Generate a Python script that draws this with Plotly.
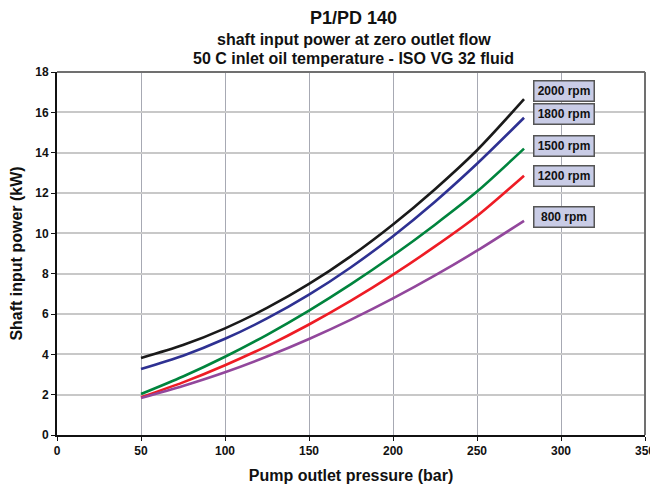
import plotly.graph_objects as go

pressure = [50, 75, 100, 125, 150, 175, 200, 225, 250, 278]
rpm2000 = [3.82, 4.46, 5.29, 6.30, 7.49, 8.87, 10.44, 12.19, 14.12, 16.65]
rpm1800 = [3.27, 3.93, 4.77, 5.78, 6.96, 8.32, 9.86, 11.57, 13.45, 15.73]
rpm1500 = [2.03, 2.90, 3.88, 4.97, 6.17, 7.48, 8.90, 10.43, 12.07, 14.20]
rpm1200 = [1.87, 2.61, 3.46, 4.41, 5.48, 6.66, 7.95, 9.35, 10.86, 12.86]
rpm800 = [1.83, 2.43, 3.11, 3.89, 4.76, 5.72, 6.77, 7.91, 9.14, 10.62]

series = [
    ("2000 rpm", rpm2000, "#1a1a1a", 17.06),
    ("1800 rpm", rpm1800, "#2e3192", 15.93),
    ("1500 rpm", rpm1500, "#00843d", 14.31),
    ("1200 rpm", rpm1200, "#ee1c25", 12.83),
    ("800 rpm", rpm800, "#92479c", 10.83),
]
label_x = 302

x_ticks = [0, 50, 100, 150, 200, 250, 300, 350]
y_ticks = [0, 2, 4, 6, 8, 10, 12, 14, 16, 18]

FONT = "Liberation Sans, Arial, sans-serif"

fig = go.Figure()
for name, vals, color, ly in series:
    fig.add_trace(go.Scatter(
        x=pressure, y=vals, mode="lines", name=name,
        line=dict(color=color, width=2.6, shape="spline", smoothing=0.8),
        showlegend=False, hoverinfo="x+y+name"))
    fig.add_annotation(
        x=label_x, y=ly, xref="x", yref="y", text="<b>%s</b>" % name,
        showarrow=False, font=dict(family=FONT, size=12, color="#111"),
        bgcolor="#c9cce6", bordercolor="#555555", borderwidth=1.5,
        borderpad=2, width=55, height=15)

titles = [("<b>P1/PD 140</b>", 18, 18),
          ("<b>shaft input power at zero outlet flow</b>", 16, 39),
          ("<b>50 C inlet oil temperature - ISO VG 32 fluid</b>", 16, 58)]
plot_top, plot_bottom = 72, 435
for txt, size, ypix in titles:
    yp = (plot_bottom - ypix) / (plot_bottom - plot_top)
    fig.add_annotation(x=0.505, y=yp, xref="paper", yref="paper", text=txt,
                       showarrow=False, yanchor="middle", xanchor="center",
                       font=dict(family=FONT, size=size, color="#111"))

fig.update_layout(
    width=650, height=482,
    margin=dict(l=49, r=13, t=64, b=55, autoexpand=False),
    paper_bgcolor="white", plot_bgcolor="white",
    font=dict(family=FONT, color="#111"),
    xaxis=dict(
        range=[0, 350], tickvals=x_ticks, ticktext=[str(v) for v in x_ticks],
        showgrid=True, gridcolor="#a7a9b3", gridwidth=1,
        showline=True, linecolor="#111", linewidth=2,
        ticks="outside", ticklen=4, tickcolor="#111", tickwidth=1,
        tickfont=dict(family=FONT, size=12, color="#111", weight="bold"),
        zeroline=False, automargin=False,
        title=dict(text="<b>Pump outlet pressure (bar)</b>",
                   font=dict(family=FONT, size=16, color="#111"), standoff=12),
    ),
    yaxis=dict(
        range=[0, 18], tickvals=y_ticks, ticktext=[str(v) for v in y_ticks],
        showgrid=True, gridcolor="#c8c8c8", gridwidth=2,
        showline=True, linecolor="#111", linewidth=2,
        ticks="outside", ticklen=4, tickcolor="#111", tickwidth=1,
        tickfont=dict(family=FONT, size=12, color="#111", weight="bold"),
        zeroline=False, automargin=False,
        title=dict(text="<b>Shaft input power (kW)</b>",
                   font=dict(family=FONT, size=16, color="#111"), standoff=10),
    ),
    shapes=[
        dict(type="line", xref="paper", yref="paper", x0=0, x1=1, y0=1, y1=1,
             line=dict(color="#707070", width=2)),
        dict(type="line", xref="paper", yref="paper", x0=1, x1=1, y0=0, y1=1,
             line=dict(color="#707070", width=2)),
    ],
)

fig.write_html("out.html")
